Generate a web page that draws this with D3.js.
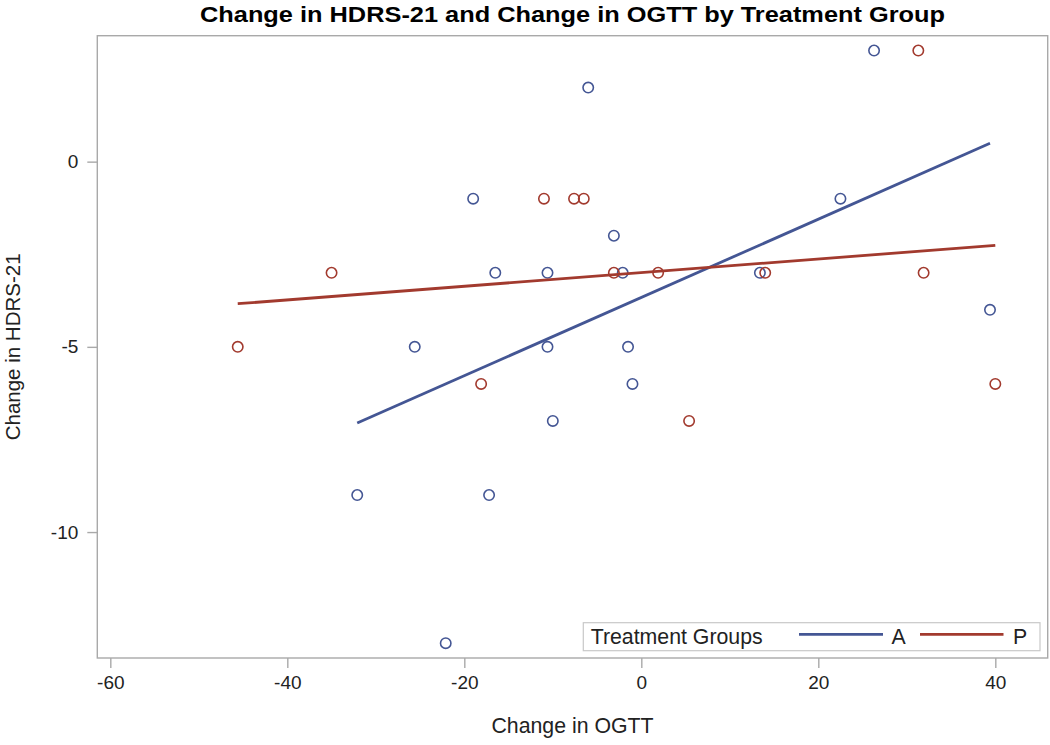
<!DOCTYPE html>
<html>
<head>
<meta charset="utf-8">
<script src="https://cdn.jsdelivr.net/npm/d3@7"></script>
<style>
  body { margin: 0; background: #fff; }
  svg { display: block; }
  text { font-family: "Liberation Sans", Arial, sans-serif; }
</style>
</head>
<body>
<svg id="chart" width="1050" height="745"></svg>
<script>
// ---- Data ----
const groups = ["A", "P"];
const groupColors = ["#445694", "#A23A2E"];

const aOGTT  = [-6, -19, -3.1, -16.5, -10.6, -2.1, 26.3, 22.5, 13.4, 39.4, -25.6, -32.1, -22.1, -10.6, -1.5, -1.0, -10.0, -17.2];
const aHDRS  = [ 2,  -1,   -2,    -3,    -3,   -3,    3,   -1,   -3,   -4,    -5,    -9,   -13,    -5,   -5,   -6,    -7,    -9];

const pOGTT  = [-11, -7.6, -6.5, -3.1, 1.9, 31.3, 14.0, 31.9, 40.0, -35.0, -45.6, -18.1, 5.4];
const pHDRS  = [ -1,   -1,   -1,   -3,  -3,    3,   -3,   -3,   -6,    -3,    -5,    -6,  -7];

const xTicks = [-60, -40, -20, 0, 20, 40];
const yTicks = [-10, -5, 0];

const titleText = "Change in HDRS-21 and Change in OGTT by Treatment Group";
const xLabel = "Change in OGTT";
const yLabel = "Change in HDRS-21";
const legendTitle = "Treatment Groups";

// ---- Layout ----
const svg = d3.select("#chart");
const plot = { left: 97.3, top: 35.7, right: 1047.7, bottom: 658 };

const x = d3.scaleLinear().domain([-61.47, 45.92]).range([plot.left, plot.right]);
const y = d3.scaleLinear().domain([-13.40, 3.40]).range([plot.bottom, plot.top]);

const series = [
  { name: groups[0], color: groupColors[0], pts: aOGTT.map((v, i) => ({ x: v, y: aHDRS[i] })) },
  { name: groups[1], color: groupColors[1], pts: pOGTT.map((v, i) => ({ x: v, y: pHDRS[i] })) }
];

// least squares fit per group
function fit(pts) {
  const mx = d3.mean(pts, d => d.x), my = d3.mean(pts, d => d.y);
  const sxy = d3.sum(pts, d => (d.x - mx) * (d.y - my));
  const sxx = d3.sum(pts, d => (d.x - mx) * (d.x - mx));
  const b = sxy / sxx, a = my - b * mx;
  const [x0, x1] = d3.extent(pts, d => d.x);
  return [{ x: x0, y: a + b * x0 }, { x: x1, y: a + b * x1 }];
}

// frame
svg.append("rect")
  .attr("x", plot.left).attr("y", plot.top)
  .attr("width", plot.right - plot.left).attr("height", plot.bottom - plot.top)
  .attr("fill", "#fff").attr("stroke", "#A9A9A9").attr("stroke-width", 1.4);

// axes
const axisColor = "#A9A9A9";
const fmt = d => String(d);
const xAxis = svg.append("g")
  .attr("transform", `translate(0,${plot.bottom})`)
  .call(d3.axisBottom(x).tickValues(xTicks).tickSize(10).tickPadding(8).tickFormat(fmt));
xAxis.select(".domain").remove();
xAxis.selectAll("line").attr("stroke", axisColor).attr("stroke-width", 1.4);
xAxis.selectAll("text").attr("font-size", 19).attr("fill", "#222")
  .attr("font-family", "Liberation Sans, Arial, sans-serif");

const yAxis = svg.append("g")
  .attr("transform", `translate(${plot.left},0)`)
  .call(d3.axisLeft(y).tickValues(yTicks).tickSize(10).tickPadding(9).tickFormat(fmt));
yAxis.select(".domain").remove();
yAxis.selectAll("line").attr("stroke", axisColor).attr("stroke-width", 1.4);
yAxis.selectAll("text").attr("font-size", 19).attr("fill", "#222")
  .attr("font-family", "Liberation Sans, Arial, sans-serif");

// points
series.forEach(s => {
  svg.append("g").selectAll("circle").data(s.pts).join("circle")
    .attr("cx", d => x(d.x)).attr("cy", d => y(d.y))
    .attr("r", 5.2)
    .attr("fill", "none").attr("stroke", s.color).attr("stroke-width", 1.6);
});

// regression lines
const line = d3.line().x(d => x(d.x)).y(d => y(d.y));
series.forEach(s => {
  svg.append("path").datum(fit(s.pts))
    .attr("d", line).attr("fill", "none")
    .attr("stroke", s.color).attr("stroke-width", 2.8);
});

// title
svg.append("text")
  .attr("x", 572.5).attr("y", 22).attr("text-anchor", "middle")
  .attr("font-weight", "bold").attr("font-size", 21.5).attr("fill", "#000")
  .attr("textLength", 745).attr("lengthAdjust", "spacingAndGlyphs")
  .text(titleText);

// axis labels
svg.append("text")
  .attr("x", (plot.left + plot.right) / 2).attr("y", 733)
  .attr("text-anchor", "middle").attr("font-size", 21.3).attr("fill", "#222")
  .text(xLabel);

svg.append("text")
  .attr("transform", `translate(20,${(plot.top + plot.bottom) / 2}) rotate(-90)`)
  .attr("text-anchor", "middle").attr("font-size", 20.5).attr("fill", "#222")
  .text(yLabel);

// legend
const lg = svg.append("g");
lg.append("rect")
  .attr("x", 583.3).attr("y", 622.7).attr("width", 1040 - 583.3).attr("height", 28)
  .attr("fill", "#fff").attr("stroke", "#C8C8C8").attr("stroke-width", 1.2);
lg.append("text").attr("x", 590.7).attr("y", 644).attr("font-size", 21.3).attr("fill", "#222")
  .text(legendTitle);
const legItems = [
  { x1: 799, x2: 883, tx: 891.5 },
  { x1: 920, x2: 1003.5, tx: 1013 }
];
series.forEach((s, i) => {
  const it = legItems[i];
  lg.append("line").attr("x1", it.x1).attr("x2", it.x2).attr("y1", 634.3).attr("y2", 634.3)
    .attr("stroke", s.color).attr("stroke-width", 2.8);
  lg.append("text").attr("x", it.tx).attr("y", 644).attr("font-size", 21.3).attr("fill", "#222")
    .text(s.name);
});
</script>
</body>
</html>
